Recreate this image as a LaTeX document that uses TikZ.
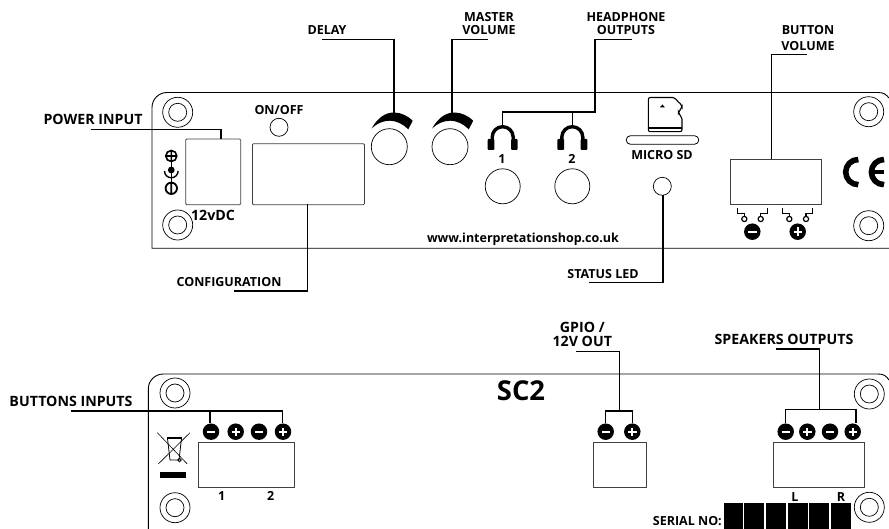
\documentclass[tikz,border=0pt]{standalone}
\usepackage{fontspec}
\setmainfont{Open Sans}
\begin{document}
\begin{tikzpicture}[x=1pt,y=-1pt,
  panel/.style={draw=black,line width=0.9pt},
  lead/.style={draw=black,line width=1.5pt,line join=miter},
  box/.style={draw=black!75,line width=0.8pt,fill=white},
  ring/.style={draw=black,line width=0.7pt,fill=white},
  lab/.style={font=\bfseries\fontsize{12.5}{13}\selectfont,inner sep=0pt,align=center,text=black},
  labbig/.style={font=\bfseries\fontsize{14.2}{14}\selectfont,inner sep=0pt,align=center,text=black},
  disc/.style={circle,fill=black,minimum size=16.5pt,inner sep=0pt}]
\useasboundingbox (0,0) rectangle (889,529);
% panels
\draw[panel] (889,98) .. controls (886,94.5) and (884,92.5) .. (878,92.5) -- (167,92.5) arc[start angle=-90,end angle=-180,radius=15] -- (152,248.3) -- (889,248.3);
\draw[panel] (889,380) .. controls (886,376) and (884,374) .. (878,374) -- (163.3,374) arc[start angle=-90,end angle=-180,radius=15] -- (148.3,529);
% screws
\foreach \n/\x/\y in {a/177.7/112.3,b/177.7/225,c/868.7/111.7,d/868.7/225.7,e/175/393,f/175/507.7,g/869.3/394,h/869.3/507.3}{
  \draw[ring] (\x,\y) circle[radius=15]; \draw[ring] (\x,\y) circle[radius=9];}
% boxes
\node[box,rounded corners=1pt,minimum width=55pt,minimum height=65.6pt,inner sep=0pt,anchor=north west] (pwr) at (185.3,138.7) {};
\node[box,rounded corners=1pt,minimum width=112pt,minimum height=61pt,inner sep=0pt,anchor=north west] (cfg) at (252,143.3) {};
\node[box,minimum width=90.7pt,minimum height=45pt,inner sep=0pt,anchor=north west] (btn) at (730,159.3) {};
\node[box,minimum width=96pt,minimum height=44.4pt,inner sep=0pt,anchor=north west] (binp) at (198.3,442.3) {};
\node[box,minimum width=53pt,minimum height=44.4pt,inner sep=0pt,anchor=north west] (gpio) at (592.7,442.3) {};
\node[box,minimum width=91pt,minimum height=44.4pt,inner sep=0pt,anchor=north west] (spk) at (773.3,442.3) {};
% circles
\node[ring,circle,minimum size=18pt,inner sep=0pt] (onoff) at (279,127.3) {};
\node[ring,circle,minimum size=36pt,inner sep=0pt] (delay) at (389.3,146.7) {};
\node[ring,circle,minimum size=36pt,inner sep=0pt] (master) at (450,146.7) {};
\node[ring,circle,minimum size=35pt,inner sep=0pt] (hp1) at (502.7,186.3) {};
\node[ring,circle,minimum size=35pt,inner sep=0pt] (hp2) at (572.3,186.3) {};
\node[ring,circle,minimum size=18pt,inner sep=0pt] (led) at (662.3,186.3) {};
% knob arcs
\foreach \dx in {0,60.5}{
 \fill[black,shift={(\dx,0)}] (371.7,128.3) .. controls (378,117) and (386,112.5) .. (394,112.5) .. controls (401,112.5) and (408,116) .. (412.7,120.7) -- (408.3,129.3) .. controls (403,124) and (396,120.7) .. (390,120.7) .. controls (383,120.7) and (377,123.5) .. (371.7,128.3) -- cycle;}
\coordinate (delayarc) at (394,113); \coordinate (masterarc) at (452,113);
% headphones
\foreach \x in {502.7,572.3}{
 \draw[black,line width=3.4pt] (\x-10.5,141) -- (\x-10.5,137.2) arc[start angle=180,end angle=360,radius=10.5] -- (\x+10.5,141);
 \fill[black,rounded corners=1pt] (\x-15,139) rectangle (\x-8.3,150);
 \fill[black,rounded corners=1pt] (\x+8.3,139) rectangle (\x+15,150);}
\coordinate (ph1) at (502.7,125); \coordinate (ph2) at (572.3,125);
% power symbol
\draw[black,line width=1.6pt] (171.3,156) circle[radius=5.5] (165.8,156) -- (176.8,156) (171.3,150.5) -- (171.3,161.5);
\fill[black] (171.3,170) circle[radius=3.4];
\draw[black,line width=1.3pt] (171.3,161) -- (171.3,183);
\draw[black,line width=1.4pt] (164.5,171) arc[start angle=180,end angle=0,radius=6.8];
\draw[black,line width=1.8pt] (171.3,188.3) circle[radius=5.7] (171.3,182.6) -- (171.3,194);
% micro SD
\draw[black,line width=1.1pt,rounded corners=2pt] (648.3,97.5) -- (675,97.5) -- (677,101) -- (682,105) -- (682,108.5) -- (678.5,111) -- (678.5,114) -- (682,117) -- (682,131.7) -- (648.3,131.7) -- cycle;
\fill[black] (648.3,127.5) rectangle (682,129.3);
\fill[black] (659.8,107.5) -- (665,107.5) -- (662.4,104.5) -- cycle;
\draw[black,line width=0.8pt] (630.5,135.7) -- (694.5,135.7) arc[start angle=-90,end angle=90,radius=4.3] -- (630.5,144.3) arc[start angle=90,end angle=270,radius=4.3] -- cycle;
% switches
\foreach \a/\b in {737.7/744.3,782.7/789.3,767.7/760.7,812.3/806}{
 \draw[black,line width=1.4pt] (\a,207.7) -- (\a,213.3) -- (\b,213.3) -- (\b,216.3);
 \draw[black,line width=1.2pt,fill=white] (\b,219) circle[radius=2.6];}
% discs
\foreach \n/\x/\y/\s in {sm/752.3/231.7/-,sp/797.7/231.7/+,
  ba/211/431.7/-,bb/235.7/431.7/+,bc/259/431.7/-,bd/283/431.7/+,
  ga/605.7/431.7/-,gb/632.3/431.7/+,
  ka/785.7/431.7/-,kb/807.3/431.7/+,kc/830/431.7/-,kd/852.7/431.7/+}{
  \node[disc] (\n) at (\x,\y) {};
  \draw[white,line width=2pt] (\x-4.2,\y) -- (\x+4.2,\y);
  \if\s+\draw[white,line width=2pt] (\x,\y-4.2) -- (\x,\y+4.2);\fi}
% CE
\draw[black,line width=5.6pt] (858.3,159.5) arc[start angle=-90,end angle=-270,radius=12.6];
\draw[black,line width=5.6pt] (884,159.5) arc[start angle=-90,end angle=-270,radius=12.6];
\draw[black,line width=3.6pt] (871,172.1) -- (884,172.1);
% bin
\draw[black,line width=0.6pt] (157.3,432.7) -- (187.3,464) (190,432.7) -- (158.3,464);
\draw[black,line width=0.8pt] (167.5,438.5) -- (170,460) -- (179,460) -- (181.5,438.5) -- cycle;
\draw[black,line width=2pt] (167,437.5) -- (182,437.5);
\draw[black,line width=0.8pt] (179.5,460) circle[radius=1.8];
\fill[black] (160,472) rectangle (186.3,478.3);
% serial
\foreach \a/\b in {724/742.7,744.3/764.3,766/786,787.7/807.7,809.3/829.3,831/851}
  \fill[black] (\a,503.3) rectangle (\b,529);
% leads
\coordinate (pl) at (90.7,129.3);
\draw[lead] (pl) -- (221,129.3) -- (221,138.7);
\coordinate (cl) at (234,291);
\draw[lead] (cl) -- (307.5,291) -- (307.5,204.3);
\coordinate (dl) at (322,39.5);
\draw[lead] (dl) -- (394,39.5) -- (delayarc);
\coordinate (ml) at (487.7,39.5);
\draw[lead] (ml) -- (452,39.5) -- (masterarc);
\coordinate (hl) at (632,39.5);
\draw[lead] (hl) -- (595,39.5) -- (595,112) -- (502.7,112) -- (ph1);
\draw[lead] (572.3,112) -- (ph2);
\coordinate (bl) at (807,54.7);
\draw[lead] (bl) -- (771.7,54.7) -- (771.7,159.3);
\coordinate (sl) at (589,282.7);
\draw[lead] (sl) -- (663,282.7) -- (663,195.3);
\coordinate (il) at (71,411);
\draw[lead] (il) -- (282.7,411) -- (282.7,423);
\draw[lead] (210,411) -- (210,423);
\coordinate (gl) at (576,351.7);
\draw[lead] (gl) -- (619.3,351.7) -- (619.3,411);
\draw[lead] (605.7,423) -- (605.7,411) -- (632.3,411) -- (632.3,423);
\coordinate (kl) at (776,349);
\draw[lead] (kl) -- (819.3,349) -- (819.3,409.3);
\draw[lead] (785.7,423) -- (785.7,409.3) -- (856,409.3) -- (856,423);
% labels
\node[labbig] (t1) at (93,119) {POWER INPUT};
\node[lab] (t2) at (229,282) {CONFIGURATION};
\node[lab] (t3) at (327,30) {DELAY};
\node[lab] (t4) at (489,23.5) {MASTER\\VOLUME};
\node[lab] (t5) at (626,23.5) {HEADPHONE\\OUTPUTS};
\node[lab] (t6) at (808,38) {BUTTON\\[3.7pt]VOLUME};
\node[lab] (t7) at (279,110) {ON/OFF};
\node[labbig] (t8) at (213,215) {12vDC};
\node[lab] (t9) at (662,155) {MICRO SD};
\node[lab] (t10) at (523,239) {www.interpretationshop.co.uk};
\node[lab] (t11) at (603,274) {STATUS LED};
\node[lab] (t12) at (502,159) {1};
\node[lab] (t13) at (572,159) {2};
\node[labbig] (t14) at (71,401.7) {BUTTONS INPUTS};
\node[lab] (t15) at (221.7,496) {1};
\node[lab] (t16) at (270.7,496) {2};
\node[labbig] (t17) at (582.3,334) {GPIO /\\12V OUT};
\node[labbig] (t18) at (784,339) {SPEAKERS OUTPUTS};
\node[lab] (t19) at (795,496.7) {L};
\node[lab] (t20) at (841,496.7) {R};
\node[lab,anchor=east] (t21) at (722,521.5) {SERIAL NO:};
\node[lab,font=\bfseries\fontsize{27.4}{28}\selectfont] (t22) at (521,391) {SC2};
\end{tikzpicture}
\end{document}
